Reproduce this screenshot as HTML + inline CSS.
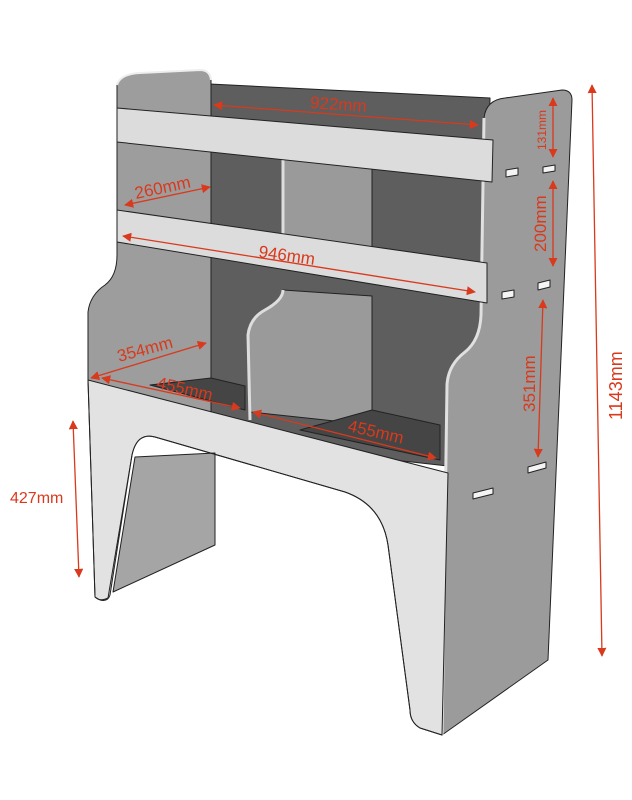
<!DOCTYPE html>
<html><head><meta charset="utf-8"><style>
html,body{margin:0;padding:0;background:#fff;width:632px;height:800px;overflow:hidden}
svg{display:block}
text{font-family:"Liberation Sans",sans-serif;fill:#d9391c}
</style></head><body>
<svg width="632" height="800" viewBox="0 0 632 800" xmlns="http://www.w3.org/2000/svg">
<defs>
<marker id="a" viewBox="0 0 10 10" refX="9" refY="5" markerWidth="7" markerHeight="7" orient="auto-start-reverse"><path d="M0,0 L10,5 L0,10 z" fill="#d9391c"/></marker>
</defs>
<g stroke="#222" stroke-width="1" stroke-linejoin="round">
<polygon points="210,84 490,98 484,470 211,440" fill="#5e5e5e"/>
<path d="M117,85 Q120,74 140,73 L200,70 Q210,70 211,80 L211,420 L88,385 L88,312 Q90,295 105,285 Q117,276 117,255 Z" fill="#9d9d9d"/>
<path d="M117,85 Q120,74 140,73 L200,70 Q210,70 211,80" fill="none" stroke="#eee" stroke-width="2"/>
<polygon points="283,158 372,165 372,275 283,268" fill="#9a9a9a"/>
<line x1="283" y1="158" x2="283" y2="268" stroke="#ddd" stroke-width="3"/>
<path d="M283,290 L372,296 L372,425 L250,412 L248,335 Q250,318 265,310 Q283,300 283,290 Z" fill="#9a9a9a"/>
<path d="M283,290 Q283,300 265,310 Q250,318 248,335 L250,420" fill="none" stroke="#ddd" stroke-width="3"/>
<polygon points="150,385 211,378 245,386 245,410" fill="#454545"/>
<polygon points="300,430 372,410 440,425 440,460" fill="#454545"/>
<path d="M484,118 Q486,100 505,98 L562,90 Q572,90 572,100 L548,660 L442,735 L447,385 Q448,365 465,352 Q480,340 481,315 Z" fill="#9b9b9b"/>
<path d="M484,118 L481,315 Q480,340 465,352 Q448,365 447,385 L442,735" fill="none" stroke="#e0e0e0" stroke-width="3"/>
<polygon points="117,108 493,140 492,182 117,142" fill="#dcdcdc"/>
<polygon points="117,210 487,263 487,303 117,242" fill="#dcdcdc"/>
<path d="M88,380 L448,473 L442,735 L420,728 Q410,722 410,710 L388,545 Q382,505 345,492 L155,437 Q137,432 132,455 L110,595 Q108,602 100,600 L95,597 Z" fill="#e2e2e2"/>
<polygon points="135,457 215,453 215,545 113,592" fill="#a5a5a5"/>
<path d="M88,380 L95,597 Q100,602 108,598 L132,455 Q137,432 155,437 L345,492 Q382,505 388,545 L410,710 Q410,722 420,728 L442,735" fill="none"/>
<g fill="#f4f4f4">
<polygon points="506,170 518,168 518,175 506,177"/>
<polygon points="543,167 555,165 555,171 543,173"/>
<polygon points="502,292 514,290 514,297 502,299"/>
<polygon points="538,283 550,280 550,287 538,290"/>
<polygon points="528,467 546,462 546,468 528,473"/>
<polygon points="473,493 493,488 493,494 473,499"/>
</g>
</g>
<g stroke="#d9391c" stroke-width="1.3" fill="none">
<line x1="214" y1="105" x2="478" y2="125" marker-start="url(#a)" marker-end="url(#a)"/>
<line x1="553" y1="98" x2="553" y2="157" marker-start="url(#a)" marker-end="url(#a)"/>
<line x1="553" y1="181" x2="553" y2="266" marker-start="url(#a)" marker-end="url(#a)"/>
<line x1="543" y1="300" x2="538" y2="457" marker-start="url(#a)" marker-end="url(#a)"/>
<line x1="592" y1="85" x2="602" y2="656" marker-start="url(#a)" marker-end="url(#a)"/>
<line x1="73" y1="421" x2="79" y2="577" marker-start="url(#a)" marker-end="url(#a)"/>
<line x1="125" y1="205" x2="210" y2="187" marker-start="url(#a)" marker-end="url(#a)"/>
<line x1="123" y1="236" x2="475" y2="292" marker-start="url(#a)" marker-end="url(#a)"/>
<line x1="91" y1="378" x2="206" y2="343" marker-start="url(#a)" marker-end="url(#a)"/>
<line x1="102" y1="378" x2="240" y2="408" marker-start="url(#a)" marker-end="url(#a)"/>
<line x1="253" y1="412" x2="436" y2="458" marker-start="url(#a)" marker-end="url(#a)"/>
</g>
<text x="310" y="110" font-size="17" transform="rotate(4 338 105)">922mm</text>
<text x="546" y="150" font-size="12" transform="rotate(-90 546 150)">131mm</text>
<text x="546" y="252" font-size="17" transform="rotate(-90 546 252)">200mm</text>
<text x="535" y="412" font-size="17" transform="rotate(-90 535 412)">351mm</text>
<text x="622" y="420" font-size="18" transform="rotate(-90 622 420)">1143mm</text>
<text x="10" y="503" font-size="16">427mm</text>
<text x="136" y="199" font-size="17" transform="rotate(-12 136 199)">260mm</text>
<text x="258" y="257" font-size="17" transform="rotate(8 258 257)">946mm</text>
<text x="119" y="362" font-size="17" transform="rotate(-15 119 362)">354mm</text>
<text x="156" y="388" font-size="17" transform="rotate(13 156 388)">455mm</text>
<text x="347" y="431" font-size="17" transform="rotate(13 347 431)">455mm</text>
</svg>
</body></html>
